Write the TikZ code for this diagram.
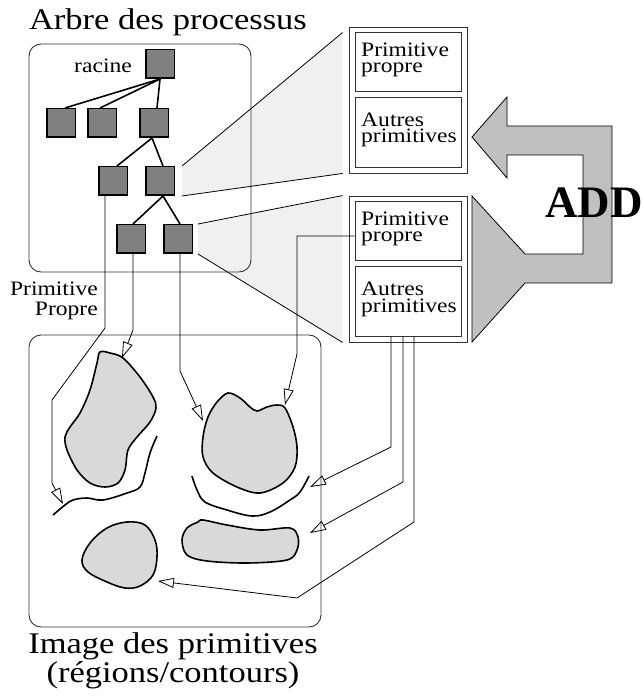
\documentclass[tikz,border=0pt]{standalone}
\usepackage{fontspec}
\setmainfont[FakeStretch=1.15]{Liberation Serif}
\newfontfamily\addfont{Liberation Serif}
\usetikzlibrary{arrows.meta,calc}
\definecolor{sqgray}{HTML}{808080}
\definecolor{blobgray}{HTML}{D9D9D9}
\definecolor{zoomgray}{HTML}{F0F0F0}
\definecolor{addgray}{HTML}{C0C0C0}
\definecolor{framegray}{HTML}{333333}
\begin{document}
\begin{tikzpicture}[x=1pt,y=-1pt,
  sqnode/.style={draw=black, line width=1.5pt, fill=sqgray, minimum size=28.5pt, inner sep=0pt},
  treeedge/.style={line width=1.6pt},
  roundbox/.style={draw=framegray, line width=0.9pt, rounded corners=12pt, inner sep=0pt},
  boxframe/.style={draw=framegray, line width=0.9pt, inner sep=0pt, minimum width=#1},
  conn/.style={line width=0.8pt, -{Triangle[open,length=16pt,width=10pt]}},
  blob/.style={draw=black, line width=1.6pt, fill=blobgray},
  curve/.style={draw=black, line width=1.6pt},
  bigtxt/.style={inner sep=0pt, font=\fontsize{30}{25}\selectfont},
  smalltxt/.style={inner sep=0pt, font=\fontsize{20.5}{16.5}\selectfont, align=left},
]
\useasboundingbox (0,0) rectangle (642,700);

% ---- tree nodes
\node[sqnode] (r)  at (160,64) {};
\node[sqnode] (a1) at (61,123) {};
\node[sqnode] (a2) at (102,123) {};
\node[sqnode] (a3) at (154,123) {};
\node[sqnode] (b1) at (113,181) {};
\node[sqnode] (b2) at (160,181) {};
\node[sqnode] (c1) at (131,239) {};
\node[sqnode] (c2) at (178,239) {};

% ---- right boxes
\node[boxframe=118pt, minimum height=146pt] (box1) at (408,100) {};
\node[boxframe=106pt, minimum height=59pt] (p1) at (408,61.5) {};
\node[boxframe=106pt, minimum height=70pt] (o1) at (408,132) {};
\node[boxframe=118pt, minimum height=146pt] (box2) at (408,269) {};
\node[boxframe=106pt, minimum height=59pt] (p2) at (408,230.5) {};
\node[boxframe=106pt, minimum height=70pt] (o2) at (408,301) {};

% ---- zoom wedges
\fill[zoomgray] ([shift={(7,0)}]b2.north east) -- ([shift={(-6,6)}]box1.north west)
   -- ([shift={(-6,0)}]box1.south west) -- ([shift={(7,0)}]b2.south east) -- cycle;
\draw[line width=0.8pt] ([shift={(7,0)}]b2.north east) -- ([shift={(-6,6)}]box1.north west);
\draw[line width=0.8pt] ([shift={(7,0)}]b2.south east) -- ([shift={(-6,0)}]box1.south west);
\fill[zoomgray] ([shift={(5,0)}]c2.north east) -- ([shift={(-6,0)}]box2.north west)
   -- ([shift={(-6,0)}]box2.south west) -- ([shift={(5,0)}]c2.south east) -- cycle;
\draw[line width=0.8pt] ([shift={(5,0)}]c2.north east) -- ([shift={(-6,0)}]box2.north west);
\draw[line width=0.8pt] ([shift={(5,0)}]c2.south east) -- ([shift={(-6,0)}]box2.south west);

% ---- frames
\node[roundbox, minimum width=222pt, minimum height=228pt] (tree) at (140,158) {};
\node[roundbox, minimum width=292pt, minimum height=292pt] (img) at (175,481) {};

% ---- tree edges
\draw[treeedge] (r.south) -- ([shift={(4,0)}]a1.north);
\draw[treeedge] (r.south) -- ([shift={(-2,0)}]a2.north);
\draw[treeedge] (r.south) -- ([shift={(3,0)}]a3.north);
\draw[treeedge] ([shift={(-2,0)}]a3.south) -- ([shift={(4,0)}]b1.north);
\draw[treeedge] ([shift={(-2,0)}]a3.south) -- ([shift={(3,0)}]b2.north);
\draw[treeedge] ([shift={(3,0)}]b2.south) -- ([shift={(2,0)}]c1.north);
\draw[treeedge] ([shift={(3,0)}]b2.south) -- ([shift={(2,0)}]c2.north);

% ---- ADD arrow
\draw[fill=addgray, line width=0.8pt, line join=miter]
  (472,137) -- (507,97) -- (507,126) -- (612,126) -- (612,283) -- (525,283)
  -- (472,342) -- (472,196) -- (525,254) -- (583,254) -- (583,155) -- (507,155)
  -- (507,178) -- cycle;
\node[inner sep=0pt, anchor=base west, font=\addfont\bfseries\fontsize{45}{45}\selectfont] (add) at (545,218) {ADD};

% ---- texts (base anchor = baseline of the last line)
\node[bigtxt, anchor=base] (title) at (168,30) {Arbre des processus};
\node[smalltxt, anchor=base east] (racine) at (132,73) {racine};
\node[inner sep=0pt, font=\fontsize{20.5}{20}\selectfont, align=right, anchor=base east] (pp) at (98,315) {Primitive\\Propre};
\node[smalltxt, anchor=base west] (tp1) at (361,73) {Primitive\\propre};
\node[smalltxt, anchor=base west] (to1) at (361,143) {Autres\\primitives};
\node[smalltxt, anchor=base west] (tp2) at (361,242) {Primitive\\propre};
\node[smalltxt, anchor=base west] (to2) at (361,312) {Autres\\primitives};
\node[bigtxt, align=center, anchor=base] (cap) at (173,682) {Image des primitives\\(régions/contours)};

% ---- image primitives
\draw[blob] plot[smooth cycle, tension=0.55] coordinates {
  (100,352) (110,353) (123,358) (140,377) (153,397) (156,408) (150,422) (137,437)
  (128,450) (125,470) (118,483) (105,487) (90,483) (77,470) (67,450) (65,437)
  (70,427) (80,413) (90,390) (97,363)};
\draw[curve] plot[smooth, tension=0.6] coordinates {
  (157,436) (150,453) (145,473) (140,487) (127,493) (103,500) (87,498) (73,500) (65,505) (53,515)};
\draw[blob] plot[smooth cycle, tension=0.55] coordinates {
  (228,393) (240,398) (250,407) (257,411) (267,407) (277,405) (285,408) (293,427)
  (297,447) (295,467) (283,483) (260,493) (237,487) (213,473) (203,457) (203,437)
  (208,417) (217,402)};
\draw[curve] plot[smooth, tension=0.6] coordinates {
  (192,476) (197,490) (205,502) (227,510) (252,516) (270,512) (290,500) (300,492) (309,476)};
\draw[blob] plot[smooth cycle, tension=0.6] coordinates {
  (82,560) (90,543) (107,528) (127,522) (145,525) (155,540) (157,557) (153,575)
  (140,586) (125,588) (107,582) (88,572)};
\draw[blob] plot[smooth cycle, tension=0.55] coordinates {
  (182,540) (187,528) (198,522) (203,520) (227,525) (260,530) (290,528) (298,537)
  (297,550) (287,560) (247,563) (207,561) (187,555)};

% ---- connectors
\coordinate (t1) at (63,504);
\coordinate (t2) at (122,358);
\coordinate (t3) at (203,421);
\coordinate (t4) at (285,405);
\coordinate (t5) at (310,487);
\coordinate (t6) at (310,533);
\coordinate (t7) at (158,581);
\draw[conn] ([shift={(-8,0)}]b1.south) -- (105,328) -- (52,400) -- (52,483) -- (t1);
\draw[conn] ([shift={(2,0)}]c1.south) -- (133,330) -- (t2);
\draw[conn] ([shift={(2,0)}]c2.south) -- (180,371) -- (t3);
\draw[conn] ([shift={(0,5.5)}]p2.west) -- (297,236) -- (297,354) -- (t4);
\draw[conn] ([shift={(-17,0)}]o2.south) -- (391,447) -- (t5);
\draw[conn] ([shift={(-5,0)}]o2.south) -- (403,482) -- (t6);
\draw[conn] ([shift={(6,0)}]o2.south) -- (414,522) -- (297,598) -- (t7);
\end{tikzpicture}
\end{document}
